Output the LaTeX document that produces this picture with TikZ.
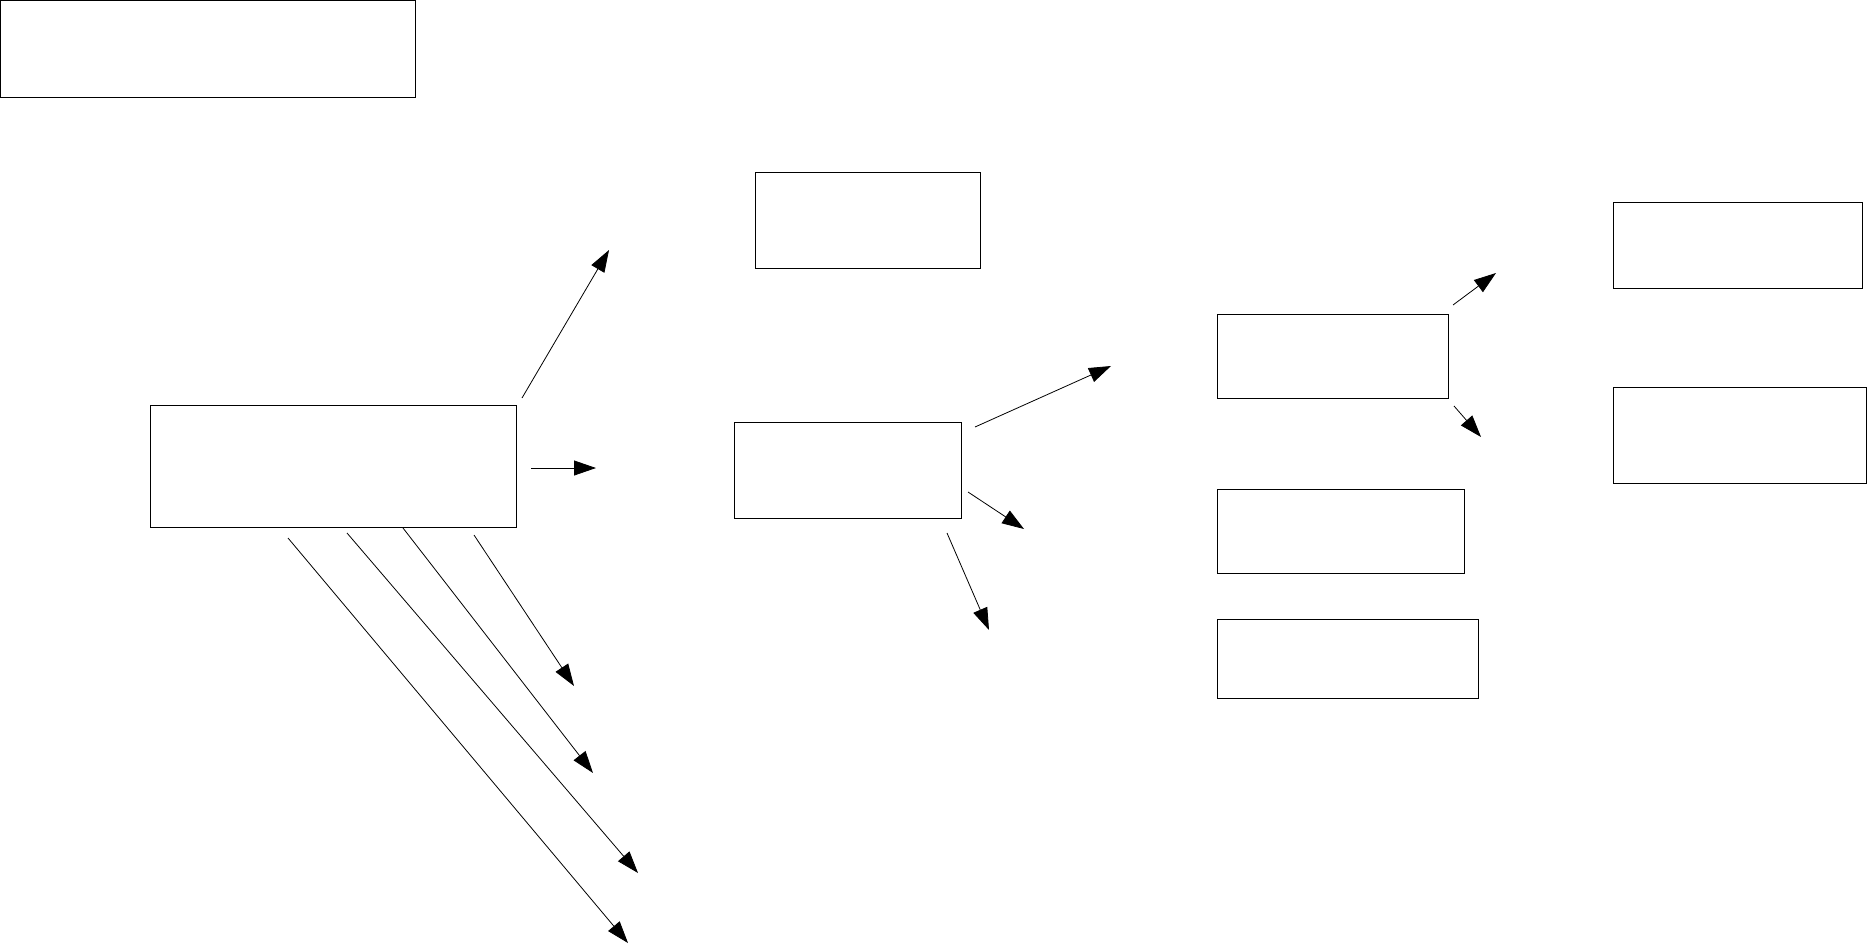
\documentclass[tikz,border=0pt]{standalone}
\usepackage{tikz}
\usetikzlibrary{arrows.meta, positioning, calc}
\tikzset{
	blk/.style ={rectangle, draw=black, line width=1pt, inner sep=0pt, anchor=north west},
	sig/.style ={-{Triangle[length=22pt, width=15pt]}, line width=0.8pt},
}
\begin{document}
\begin{tikzpicture}[x=1pt, y=-1pt]
	\useasboundingbox (0,0) rectangle (1867,945);
	% boxes
	\node[blk, minimum width=415pt, minimum height=97pt] (title) at (0,0) {};
	\node[blk, minimum width=366pt, minimum height=122pt] (main) at (150,405) {};
	\node[blk, minimum width=225pt, minimum height=96pt] (top) at (755,172) {};
	\node[blk, minimum width=227pt, minimum height=96pt] (mid) at (734,422) {};
	\node[blk, minimum width=231pt, minimum height=84pt] (ra) at (1217,314) {};
	\node[blk, minimum width=247pt, minimum height=84pt] (rb) at (1217,489) {};
	\node[blk, minimum width=261pt, minimum height=79pt] (rc) at (1217,619) {};
	\node[blk, minimum width=249pt, minimum height=86pt] (fa) at (1613,202) {};
	\node[blk, minimum width=253pt, minimum height=96pt] (fb) at (1613,387) {};
	% arrow ends
	\coordinate (mUp0) at (522,398);  \coordinate (mUp1) at (609,250);
	\coordinate (mR0) at (531,468);   \coordinate (mR1) at (596,468);
	\coordinate (mD0) at (474,535);   \coordinate (mD1) at (574,686);
	\coordinate (mE0) at (403,528);   \coordinate (mE1) at (593,773);
	\coordinate (mF0) at (347,533);   \coordinate (mF1) at (638,873);
	\coordinate (mG0) at (288,538);   \coordinate (mG1) at (628,943);
	\coordinate (dUp0) at (975,427);  \coordinate (dUp1) at (1111,366);
	\coordinate (dR0) at (968,492);   \coordinate (dR1) at (1024,529);
	\coordinate (dD0) at (947,533);   \coordinate (dD1) at (989,630);
	\coordinate (rUp0) at (1453,305); \coordinate (rUp1) at (1496,273);
	\coordinate (rD0) at (1454,406);  \coordinate (rD1) at (1481,437);
	% arrows
	\draw[sig] (mUp0) -- (mUp1);
	\draw[sig] (mR0) -- (mR1);
	\draw[sig] (mD0) -- (mD1);
	\draw[sig] (mE0) -- (mE1);
	\draw[sig] (mF0) -- (mF1);
	\draw[sig] (mG0) -- (mG1);
	\draw[sig] (dUp0) -- (dUp1);
	\draw[sig] (dR0) -- (dR1);
	\draw[sig] (dD0) -- (dD1);
	\draw[sig] (rUp0) -- (rUp1);
	\draw[sig] (rD0) -- (rD1);
\end{tikzpicture}
\end{document}
